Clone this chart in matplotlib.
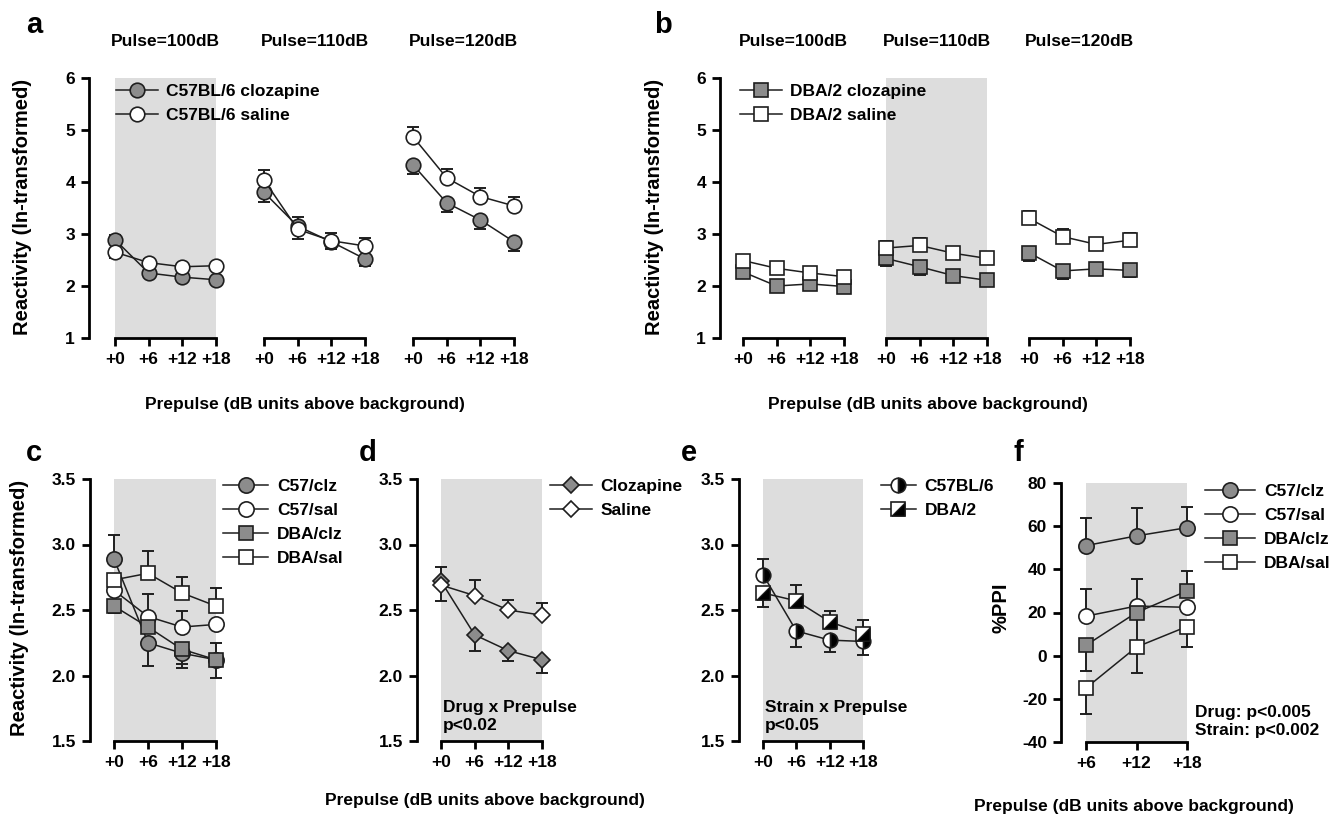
import matplotlib.pyplot as plt
from matplotlib.legend_handler import HandlerTuple

plt.rcParams['font.family'] = ['Liberation Sans', 'DejaVu Sans']
plt.rcParams['font.weight'] = 'bold'
plt.rcParams['axes.unicode_minus'] = False

# ---- data ----
prepulse = [0, 6, 12, 18]
prepulse_labels = ['+0', '+6', '+12', '+18']
pulses = ['Pulse=100dB', 'Pulse=110dB', 'Pulse=120dB']

# panel a: C57BL/6, one row per pulse level
a_clz = [[2.89, 2.25, 2.17, 2.12], [3.80, 3.15, 2.85, 2.52], [4.33, 3.60, 3.27, 2.85]]
a_clz_lo = [[0, 0.06, 0.06, 0.07], [0.18, 0, 0.13, 0.13], [0.18, 0.18, 0.17, 0.17]]
a_clz_hi = [[0.10, 0, 0, 0], [0, 0.18, 0, 0], [0, 0, 0, 0]]
a_sal = [[2.65, 2.45, 2.37, 2.39], [4.04, 3.09, 2.87, 2.77], [4.87, 4.08, 3.72, 3.54]]
a_sal_lo = [[0.12, 0, 0, 0], [0, 0.19, 0, 0], [0, 0, 0, 0]]
a_sal_hi = [[0, 0.06, 0.05, 0.06], [0.19, 0, 0.14, 0.16], [0.18, 0.17, 0.16, 0.17]]

# panel b: DBA/2
b_clz = [[2.27, 2.00, 2.04, 1.99], [2.53, 2.37, 2.20, 2.11], [2.64, 2.29, 2.33, 2.30]]
b_clz_lo = [[0.06, 0.06, 0.05, 0.05], [0.15, 0.15, 0.08, 0.08], [0.16, 0.15, 0.10, 0.12]]
b_sal = [[2.49, 2.34, 2.25, 2.18], [2.73, 2.78, 2.63, 2.53], [3.30, 2.95, 2.80, 2.88]]
b_sal_hi = [[0.06, 0.06, 0.05, 0.05], [0.13, 0.15, 0.10, 0.10], [0.15, 0.14, 0.10, 0.13]]

# panel c: shaded conditions
c_c57_clz = [2.89, 2.25, 2.17, 2.12]
c_c57_clz_lo = [0, 0.18, 0.11, 0.14]
c_c57_clz_hi = [0.18, 0, 0, 0]
c_c57_sal = [2.65, 2.45, 2.37, 2.39]
c_c57_sal_hi = [0, 0.17, 0.12, 0]
c_dba_clz = [2.53, 2.37, 2.20, 2.12]
c_dba_clz_lo = [0.05, 0, 0.11, 0]
c_dba_clz_hi = [0, 0, 0, 0.13]
c_dba_sal = [2.73, 2.78, 2.63, 2.53]
c_dba_sal_hi = [0, 0.17, 0.12, 0.14]

# panel d: drug
d_clz = [2.72, 2.31, 2.19, 2.12]
d_clz_lo = [0, 0.12, 0.08, 0.10]
d_sal = [2.69, 2.61, 2.50, 2.46]
d_sal_lo = [0.12, 0, 0, 0]
d_sal_hi = [0.14, 0.12, 0.08, 0.09]

# panel e: strain
e_c57 = [2.77, 2.34, 2.27, 2.26]
e_c57_lo = [0, 0.12, 0.09, 0.10]
e_c57_hi = [0.12, 0, 0, 0]
e_dba = [2.63, 2.57, 2.41, 2.32]
e_dba_lo = [0.11, 0, 0, 0]
e_dba_hi = [0, 0.12, 0.08, 0.10]

# panel f: %PPI
f_prepulse = [6, 12, 18]
f_labels = ['+6', '+12', '+18']
f_c57_clz = [51.0, 55.5, 59.3]
f_c57_clz_hi = [12.6, 12.8, 9.8]
f_c57_sal = [18.3, 23.0, 22.4]
f_c57_sal_hi = [12.6, 12.5, 0]
f_dba_clz = [4.8, 20.0, 30.0]
f_dba_clz_lo = [11.8, 15.0, 0]
f_dba_clz_hi = [0, 0, 9.4]
f_dba_sal = [-15.0, 4.0, 13.5]
f_dba_sal_lo = [11.8, 12.0, 9.3]

# ---- style ----
W, H = 1336, 818
GRAY = '#8c8c8c'
EDGE = '#1e1e1e'
SHADE = '#dddddd'
FS = 12.5
fig = plt.figure(figsize=(W / 100, H / 100), dpi=100)


def zeros(n):
    return [0] * n


def group_axes(left, right, top, bottom, x0px, x1px, d0, d1, ylim, yaxis=False):
    ax = fig.add_axes([left / W, 1 - bottom / H, (right - left) / W, (bottom - top) / H])
    k = (d1 - d0) / (x1px - x0px)
    ax.set_xlim(d0 - (x0px - left) * k, d1 + (right - x1px) * k)
    ax.set_ylim(*ylim)
    ax.patch.set_visible(False)
    ax.spines[['top', 'right']].set_visible(False)
    ax.spines['bottom'].set_bounds(d0, d1)
    ax.spines['bottom'].set_linewidth(2)
    ax.spines['left'].set_linewidth(2)
    ax.tick_params(width=2, length=6, labelsize=FS, pad=4)
    if not yaxis:
        ax.spines['left'].set_visible(False)
        ax.tick_params(axis='y', left=False, labelleft=False)
    return ax


def series(ax, x, y, lo, hi, marker, face, ms, **kw):
    ax.errorbar(x, y, yerr=[lo, hi], fmt='none', ecolor=EDGE, elinewidth=1.4,
                capsize=4.5, capthick=1.4, zorder=2)
    line, = ax.plot(x, y, marker=marker, ms=ms, mfc=face, mec=EDGE, mew=1.2,
                    color=EDGE, lw=1.1, zorder=3, clip_on=False, **kw)
    return line


def legend(handles, labels, x, y, hl=2.4):
    fig.legend(handles, labels, loc='upper left', bbox_to_anchor=(x / W, 1 - y / H),
               frameon=False, borderpad=0, borderaxespad=0, handlelength=hl,
               handletextpad=0.5, labelspacing=0.5, fontsize=FS,
               handler_map={tuple: HandlerTuple(ndivide=1)})


def ftext(x, y, s, **kw):
    fig.text(x / W, 1 - y / H, s, **kw)


# ---- panel a / b ----
top_panels = [
    ('a', a_clz, a_clz_lo, a_clz_hi, a_sal, a_sal_lo, a_sal_hi, 'o', 0,
     [(89, 226, 115, 216), (254, 375, 264, 365), (403, 524, 413, 514)],
     ['C57BL/6 clozapine', 'C57BL/6 saline'], (116, 84), 305),
    ('b', b_clz, b_clz_lo, [zeros(4)] * 3, b_sal, [zeros(4)] * 3, b_sal_hi, 's', 1,
     [(720, 854, 743, 844), (876, 997, 886, 987), (1019, 1140, 1029, 1130)],
     ['DBA/2 clozapine', 'DBA/2 saline'], (740, 84), 928),
]
for (letter, clz, clz_lo, clz_hi, sal, sal_lo, sal_hi, mk, shade_i, groups,
     labels, leg_xy, xlab_x) in top_panels:
    for i, (l, r, x0, x1) in enumerate(groups):
        ax = group_axes(l, r, 78, 338, x0, x1, 0, 18, (1, 6), yaxis=(i == 0))
        ax.set_xticks(prepulse, prepulse_labels)
        ax.set_yticks(range(1, 7))
        if i == shade_i:
            ax.axvspan(0, 18, color=SHADE, zorder=0, lw=0)
        ms = 10.5 if mk == 'o' else 10
        h1 = series(ax, prepulse, clz[i], clz_lo[i], clz_hi[i], mk, GRAY, ms)
        h2 = series(ax, prepulse, sal[i], sal_lo[i], sal_hi[i], mk, 'white', ms)
        ax.annotate(pulses[i], xy=(9, 1), xycoords=('data', 'axes fraction'),
                    xytext=(0, 26), textcoords='offset points', ha='center',
                    va='center', fontsize=FS)
        if i == 0:
            legend([h1, h2], labels, *leg_xy)
            ftext(groups[0][0] - 66, 207, 'Reactivity (ln-transformed)', rotation=90,
                  ha='center', va='center', fontsize=14.5)
    ftext(xlab_x, 405, 'Prepulse (dB units above background)', ha='center',
          va='center', fontsize=FS)
    ftext(34 if letter == 'a' else 663, 33, letter, ha='center', va='baseline',
          fontsize=21)

# ---- panel c ----
rtick = [1.5, 2.0, 2.5, 3.0, 3.5]
ax = group_axes(90, 226, 479, 741, 114, 216, 0, 18, (1.5, 3.5), yaxis=True)
ax.axvspan(0, 18, color=SHADE, zorder=0, lw=0)
hc = [
    series(ax, prepulse, c_c57_clz, c_c57_clz_lo, c_c57_clz_hi, 'o', GRAY, 11),
    series(ax, prepulse, c_c57_sal, zeros(4), c_c57_sal_hi, 'o', 'white', 11),
    series(ax, prepulse, c_dba_clz, c_dba_clz_lo, c_dba_clz_hi, 's', GRAY, 10),
    series(ax, prepulse, c_dba_sal, zeros(4), c_dba_sal_hi, 's', 'white', 10),
]
legend(hc, ['C57/clz', 'C57/sal', 'DBA/clz', 'DBA/sal'], 223, 479, hl=2.6)
ftext(20, 608, 'Reactivity (ln-transformed)', rotation=90, ha='center', va='center',
      fontsize=14.5)

# ---- panel d ----
axd = group_axes(417, 552, 479, 741, 441, 542, 0, 18, (1.5, 3.5), yaxis=True)
axd.axvspan(0, 18, color=SHADE, zorder=0, lw=0)
hd = [
    series(axd, prepulse, d_clz, d_clz_lo, zeros(4), 'D', GRAY, 8.5),
    series(axd, prepulse, d_sal, d_sal_lo, d_sal_hi, 'D', 'white', 8.5),
]
legend(hd, ['Clozapine', 'Saline'], 550, 479, hl=2.4)
axd.text(0.3, 1.56, 'Drug x Prepulse\np<0.02', ha='left', va='bottom', fontsize=FS,
         linespacing=1.25)

# ---- panel e ----
axe = group_axes(739, 873, 479, 741, 763, 863, 0, 18, (1.5, 3.5), yaxis=True)
axe.axvspan(0, 18, color=SHADE, zorder=0, lw=0)
axe.errorbar(prepulse, e_c57, yerr=[e_c57_lo, e_c57_hi], fmt='none', ecolor=EDGE,
             elinewidth=1.4, capsize=4.5, capthick=1.4, zorder=2)
axe.errorbar(prepulse, e_dba, yerr=[e_dba_lo, e_dba_hi], fmt='none', ecolor=EDGE,
             elinewidth=1.4, capsize=4.5, capthick=1.4, zorder=2)
he1, = axe.plot(prepulse, e_c57, marker='o', ms=10.5, fillstyle='right', mfc='black',
                mfcalt='white', mec=EDGE, mew=1.2, color=EDGE, lw=1.1, zorder=3)
he2, = axe.plot(prepulse, e_dba, marker='s', ms=9.5, mfc='white', mec=EDGE, mew=1.2,
                color=EDGE, lw=1.1, zorder=3)
tri = [(-1, -1), (1, -1), (1, 1), (-1, -1)]
he3, = axe.plot(prepulse, e_dba, marker=tri, ms=9.5, mfc='black', mec=EDGE, mew=0.8,
                ls='none', zorder=4)
legend([he1, (he2, he3)], ['C57BL/6', 'DBA/2'], 881, 479, hl=2.0)
axe.text(0.3, 1.56, 'Strain x Prepulse\np<0.05', ha='left', va='bottom', fontsize=FS,
         linespacing=1.25)

for a_ in (ax, axd, axe):
    a_.set_xticks(prepulse, prepulse_labels)
    a_.set_yticks(rtick, ['%.1f' % v for v in rtick])

ftext(485, 800, 'Prepulse (dB units above background)', ha='center', va='center',
      fontsize=FS)

# ---- panel f ----
axf = group_axes(1061, 1197, 483, 742, 1086, 1187, 6, 18, (-40, 80), yaxis=True)
axf.axvspan(6, 18, color=SHADE, zorder=0, lw=0)
hf = [
    series(axf, f_prepulse, f_c57_clz, zeros(3), f_c57_clz_hi, 'o', GRAY, 11),
    series(axf, f_prepulse, f_c57_sal, zeros(3), f_c57_sal_hi, 'o', 'white', 11),
    series(axf, f_prepulse, f_dba_clz, f_dba_clz_lo, f_dba_clz_hi, 's', GRAY, 10),
    series(axf, f_prepulse, f_dba_sal, f_dba_sal_lo, zeros(3), 's', 'white', 10),
]
axf.set_xticks(f_prepulse, f_labels)
axf.set_yticks(range(-40, 81, 20))
legend(hf, ['C57/clz', 'C57/sal', 'DBA/clz', 'DBA/sal'], 1205, 484, hl=2.9)
axf.text(19.0, -38, 'Drug: p<0.005\nStrain: p<0.002', ha='left', va='bottom',
         fontsize=FS, linespacing=1.25, clip_on=False)
ftext(1001, 608, '%PPI', rotation=90, ha='center', va='center', fontsize=14.5)
ftext(1134, 807, 'Prepulse (dB units above background)', ha='center', va='center',
      fontsize=FS)

for letter, x in (('c', 34), ('d', 368), ('e', 689), ('f', 1018)):
    ftext(x, 461, letter, ha='center', va='baseline', fontsize=21)

fig.savefig('out.png', dpi=100)
